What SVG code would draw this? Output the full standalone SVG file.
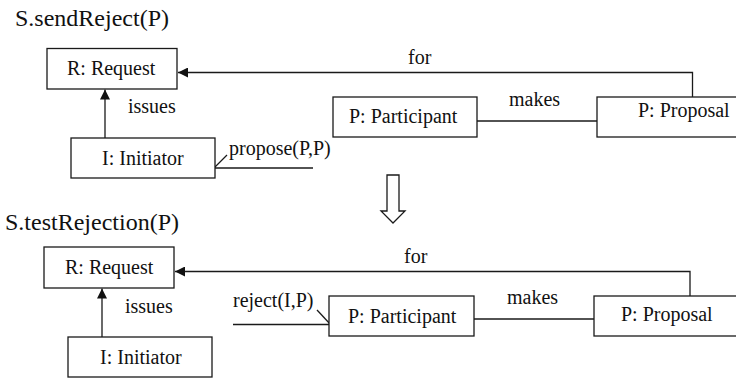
<svg xmlns="http://www.w3.org/2000/svg" width="736" height="379" viewBox="0 0 736 379">
  <style>
    .box { fill: #ffffff; stroke: #1a1a1a; stroke-width: 1.3; }
    .line { fill: none; stroke: #1a1a1a; stroke-width: 1.3; }
    .lbl { font-family: "Liberation Serif", "Times New Roman", serif; font-size: 20px; fill: #111111; }
    .title { font-family: "Liberation Serif", "Times New Roman", serif; font-size: 24px; fill: #111111; }
  </style>
  <defs>
    <marker id="arrow" viewBox="0 0 10 10" refX="10" refY="5" markerWidth="10" markerHeight="10" markerUnits="userSpaceOnUse" orient="auto">
      <path d="M0,0 L10,5 L0,10 Z" fill="#111111"/>
    </marker>
  </defs>

  <rect width="736" height="379" fill="#ffffff"/>

  <!-- upper scenario -->
  <text class="title" x="15" y="26">S.sendReject(P)</text>

  <g id="connectors-top">
    <polyline class="line" points="692.5,97 692.5,72.5 178,72.5" marker-end="url(#arrow)"/>
    <line class="line" x1="105" y1="138" x2="105" y2="89.5" marker-end="url(#arrow)"/>
    <line class="line" x1="477" y1="121" x2="597" y2="121"/>
    <line class="line" x1="215" y1="168" x2="313" y2="168"/>
    <line class="line" x1="214" y1="168" x2="227" y2="155"/>
    <text class="lbl" x="408" y="64">for</text>
    <text class="lbl" x="128" y="113">issues</text>
    <text class="lbl" x="509" y="106">makes</text>
    <text class="lbl" x="229" y="155">propose(P,P)</text>
  </g>

  <g id="request-top">
    <rect class="box" x="47" y="48.5" width="130" height="40.5"/>
    <text class="lbl" x="67" y="75">R: Request</text>
  </g>
  <g id="initiator-top">
    <rect class="box" x="71" y="138" width="144" height="40"/>
    <text class="lbl" x="102" y="165">I: Initiator</text>
  </g>
  <g id="participant-top">
    <rect class="box" x="333" y="97" width="144" height="40"/>
    <text class="lbl" x="349" y="123">P: Participant</text>
  </g>
  <g id="proposal-top">
    <rect class="box" x="597" y="97" width="145" height="40"/>
    <text class="lbl" x="638" y="117">P: Proposal</text>
  </g>

  <!-- transition arrow -->
  <g id="transition">
    <polygon class="box" points="387,175 399,175 399,211 405,211 393,223 381,211 387,211"/>
  </g>

  <!-- lower scenario -->
  <text class="title" x="5" y="230">S.testRejection(P)</text>

  <g id="connectors-bottom">
    <polyline class="line" points="690,296 690,271.5 175,271.5" marker-end="url(#arrow)"/>
    <line class="line" x1="102" y1="337" x2="102" y2="288.5" marker-end="url(#arrow)"/>
    <line class="line" x1="474" y1="319" x2="594" y2="319"/>
    <line class="line" x1="233" y1="324.5" x2="330" y2="324.5"/>
    <line class="line" x1="317" y1="310" x2="331" y2="325"/>
    <text class="lbl" x="404" y="263">for</text>
    <text class="lbl" x="125" y="313">issues</text>
    <text class="lbl" x="507" y="304">makes</text>
    <text class="lbl" x="233" y="307">reject(I,P)</text>
  </g>

  <g id="request-bottom">
    <rect class="box" x="44" y="247" width="130" height="41"/>
    <text class="lbl" x="65" y="274">R: Request</text>
  </g>
  <g id="initiator-bottom">
    <rect class="box" x="68" y="337" width="144" height="40"/>
    <text class="lbl" x="100" y="364">I: Initiator</text>
  </g>
  <g id="participant-bottom">
    <rect class="box" x="329" y="296" width="145" height="40"/>
    <text class="lbl" x="348" y="323">P: Participant</text>
  </g>
  <g id="proposal-bottom">
    <rect class="box" x="594" y="296" width="148" height="40"/>
    <text class="lbl" x="621" y="321">P: Proposal</text>
  </g>
</svg>
